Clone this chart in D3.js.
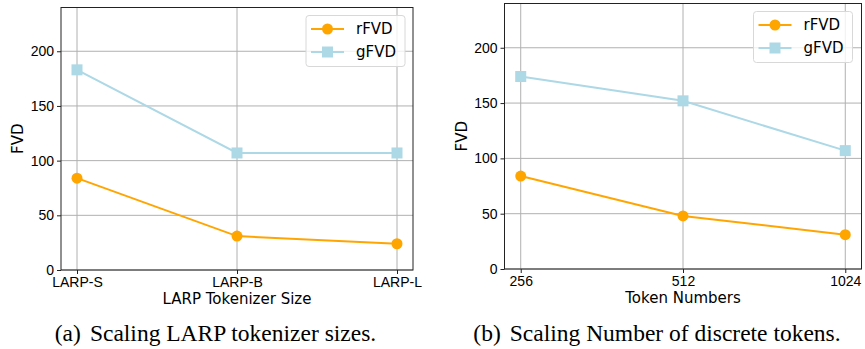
<!DOCTYPE html>
<meta charset="utf-8">
<style>
    body { margin: 0; background: white; }
    svg { font-family: "DejaVu Sans", sans-serif; }
    .grid line { stroke: #b0b0b0; stroke-width: 1; }
    .axis path, .axis line { stroke: #222; }
    .caption { font-family: "Liberation Serif", "Times New Roman", serif; }
</style>
<body>
<script src="https://cdn.jsdelivr.net/npm/d3@7"></script>
<script>
    // data
    const sizeLabels = ["LARP-S", "LARP-B", "LARP-L"];
    const sizeRFVD = [84, 31, 24];
    const sizeGFVD = [183, 107, 107];

    const tokenLabels = ["256", "512", "1024"];
    const tokenRFVD = [84, 48, 31];
    const tokenGFVD = [174, 152, 107];

    const yTicks = [0, 50, 100, 150, 200];
    const seriesNames = ["rFVD", "gFVD"];
    const seriesColors = ["#ffa500", "#add8e6"];

    const svg = d3.select("body").append("svg")
        .attr("width", 865)
        .attr("height", 349);

    function drawPanel(box, cats, rvals, gvals, xTitle, capTag, capText, legendPos) {
        const g = svg.append("g");

        // matplotlib-style 5% margins on the category axis
        const x = d3.scalePoint().domain(cats).range([box.x0, box.x1]).padding(0.1);
        const y = d3.scaleLinear().domain([0, 240]).range([box.y1, box.y0]);

        // grid
        const grid = g.append("g").attr("class", "grid");
        grid.selectAll(".gy").data(yTicks).enter().append("line")
            .attr("x1", box.x0).attr("x2", box.x1)
            .attr("y1", d => y(d)).attr("y2", d => y(d));
        grid.selectAll(".gx").data(cats).enter().append("line")
            .attr("x1", d => x(d)).attr("x2", d => x(d))
            .attr("y1", box.y0).attr("y2", box.y1);

        // axes
        g.append("g").attr("class", "axis")
            .attr("transform", "translate(0," + box.y1 + ")")
            .call(d3.axisBottom(x).tickSize(4).tickSizeOuter(0))
            .call(a => a.selectAll("text").attr("font-size", 14).attr("fill", "#000"))
            .call(a => a.select(".domain").remove());
        g.append("g").attr("class", "axis")
            .attr("transform", "translate(" + box.x0 + ",0)")
            .call(d3.axisLeft(y).tickValues(yTicks).tickSize(4))
            .call(a => a.selectAll("text").attr("font-size", 14).attr("fill", "#000"))
            .call(a => a.select(".domain").remove());

        // spines
        g.append("rect")
            .attr("x", box.x0).attr("y", box.y0)
            .attr("width", box.x1 - box.x0).attr("height", box.y1 - box.y0)
            .attr("fill", "none").attr("stroke", "#222").attr("stroke-width", 1);

        const line = d3.line().x((d, i) => x(cats[i])).y(d => y(d));
        [rvals, gvals].forEach((vals, k) => {
            g.append("path").datum(vals)
                .attr("d", line)
                .attr("fill", "none")
                .attr("stroke", seriesColors[k])
                .attr("stroke-width", 2);
        });
        g.selectAll(".dotr").data(rvals).enter().append("circle")
            .attr("cx", (d, i) => x(cats[i])).attr("cy", d => y(d))
            .attr("r", 5.5).attr("fill", seriesColors[0]);
        g.selectAll(".dotg").data(gvals).enter().append("rect")
            .attr("x", (d, i) => x(cats[i]) - 5.5).attr("y", d => y(d) - 5.5)
            .attr("width", 11).attr("height", 11).attr("fill", seriesColors[1]);

        // axis titles
        g.append("text")
            .attr("x", (box.x0 + box.x1) / 2).attr("y", box.y1 + 34)
            .attr("text-anchor", "middle").attr("font-size", 15)
            .text(xTitle);
        g.append("text")
            .attr("transform", "translate(" + (box.x0 - 38) + "," + ((box.y0 + box.y1) / 2) + ") rotate(-90)")
            .attr("text-anchor", "middle").attr("font-size", 15)
            .text("FVD");

        // legend
        const lg = g.append("g").attr("transform", "translate(" + legendPos[0] + "," + legendPos[1] + ")");
        lg.append("rect")
            .attr("width", 99).attr("height", 51).attr("rx", 3)
            .attr("fill", "white").attr("fill-opacity", 0.8)
            .attr("stroke", "#d8d8d8");
        seriesNames.forEach((name, k) => {
            const cy = 13.5 + k * 23;
            lg.append("line")
                .attr("x1", 5).attr("x2", 38).attr("y1", cy).attr("y2", cy)
                .attr("stroke", seriesColors[k]).attr("stroke-width", 2);
            if (k === 0) {
                lg.append("circle").attr("cx", 21.5).attr("cy", cy).attr("r", 5.5).attr("fill", seriesColors[k]);
            } else {
                lg.append("rect").attr("x", 16).attr("y", cy - 5.5).attr("width", 11).attr("height", 11).attr("fill", seriesColors[k]);
            }
            lg.append("text")
                .attr("x", 50).attr("y", cy).attr("dy", "0.35em")
                .attr("font-size", 15).text(name);
        });

        // caption
        const cap = svg.append("text").attr("class", "caption")
            .attr("x", box.capX).attr("y", 341)
            .attr("text-anchor", "middle").attr("font-size", 23.5);
        cap.append("tspan").text(capTag);
        cap.append("tspan").attr("dx", 9).text(capText);
    }

    drawPanel({x0: 61, x1: 413, y0: 7.5, y1: 270, capX: 215.5}, sizeLabels, sizeRFVD, sizeGFVD,
        "LARP Tokenizer Size", "(a)", "Scaling LARP tokenizer sizes.", [306, 15.5]);
    drawPanel({x0: 504.5, x1: 861.5, y0: 3.5, y1: 269, capX: 657}, tokenLabels, tokenRFVD, tokenGFVD,
        "Token Numbers", "(b)", "Scaling Number of discrete tokens.", [753.5, 11.5]);
</script>
</body>
</html>
